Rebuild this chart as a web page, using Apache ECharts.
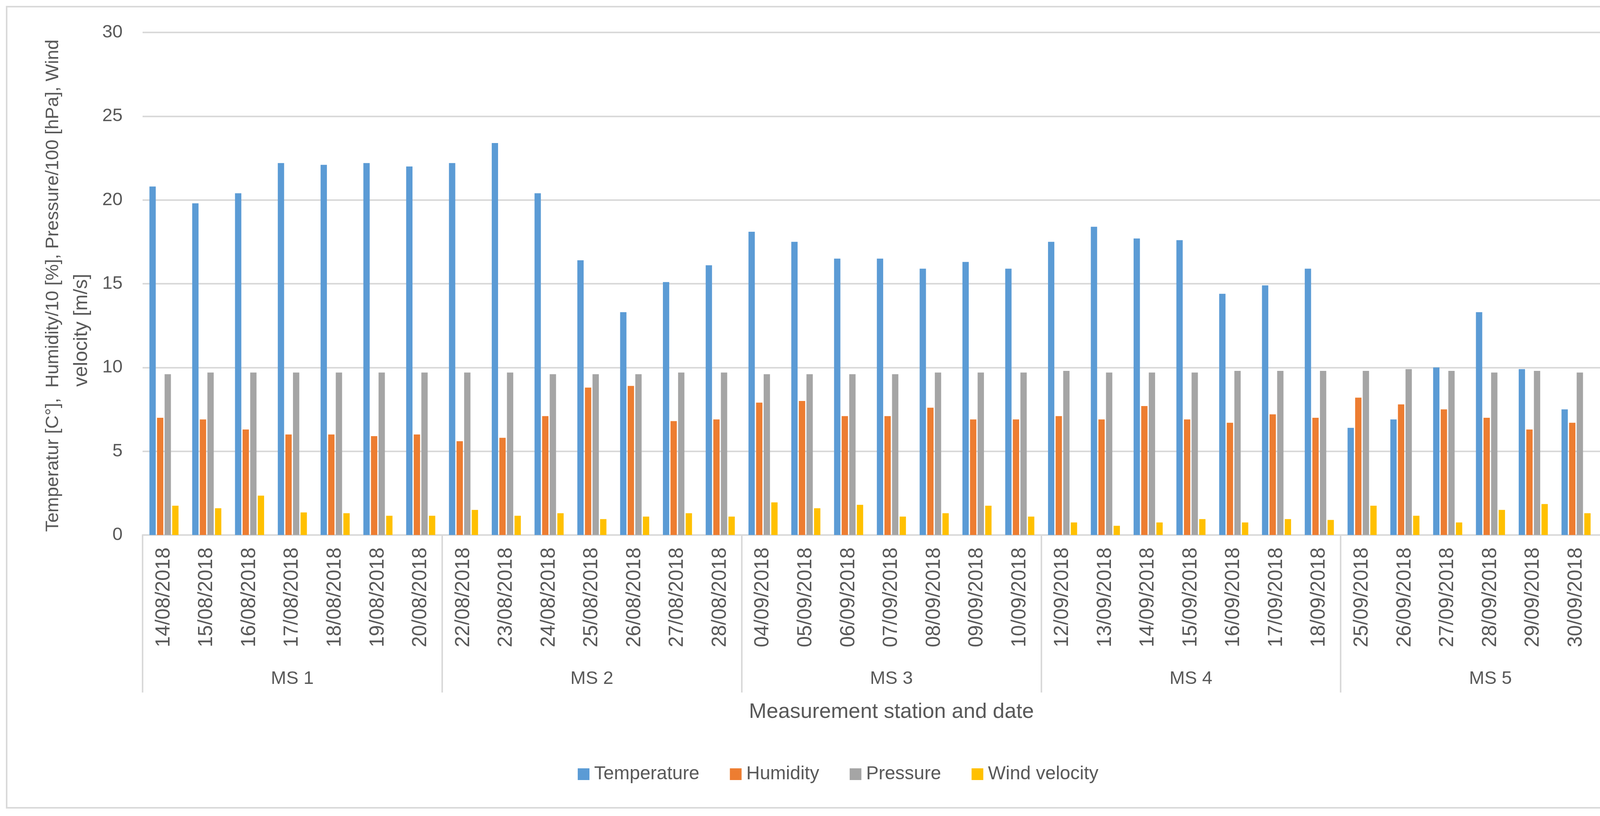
<!DOCTYPE html>
<html>
<head>
<meta charset="utf-8">
<script src="https://cdn.jsdelivr.net/npm/echarts@6/dist/echarts.min.js"></script>
<style>
html,body{margin:0;padding:0;background:#fff;overflow:hidden;}
#c{width:4291px;height:2088px;}
</style>
</head>
<body>
<div id="c"></div>
<script>
const dates = [
  '14/08/2018','15/08/2018','16/08/2018','17/08/2018','18/08/2018','19/08/2018','20/08/2018',
  '22/08/2018','23/08/2018','24/08/2018','25/08/2018','26/08/2018','27/08/2018','28/08/2018',
  '04/09/2018','05/09/2018','06/09/2018','07/09/2018','08/09/2018','09/09/2018','10/09/2018',
  '12/09/2018','13/09/2018','14/09/2018','15/09/2018','16/09/2018','17/09/2018','18/09/2018',
  '25/09/2018','26/09/2018','27/09/2018','28/09/2018','29/09/2018','30/09/2018','01/10/2018'
];
const stations = ['MS 1','MS 2','MS 3','MS 4','MS 5'];
const temperature = [20.8,19.8,20.4,22.2,22.1,22.2,22.0, 22.2,23.4,20.4,16.4,13.3,15.1,16.1, 18.1,17.5,16.5,16.5,15.9,16.3,15.9, 17.5,18.4,17.7,17.6,14.4,14.9,15.9, 6.4,6.9,10.0,13.3,9.9,7.5,9.6];
const humidity = [7.0,6.9,6.3,6.0,6.0,5.9,6.0, 5.6,5.8,7.1,8.8,8.9,6.8,6.9, 7.9,8.0,7.1,7.1,7.6,6.9,6.9, 7.1,6.9,7.7,6.9,6.7,7.2,7.0, 8.2,7.8,7.5,7.0,6.3,6.7,8.1];
const pressure = [9.6,9.7,9.7,9.7,9.7,9.7,9.7, 9.7,9.7,9.6,9.6,9.6,9.7,9.7, 9.6,9.6,9.6,9.6,9.7,9.7,9.7, 9.8,9.7,9.7,9.7,9.8,9.8,9.8, 9.8,9.9,9.8,9.7,9.8,9.7,9.6];
const wind = [1.75,1.6,2.35,1.35,1.3,1.15,1.15, 1.5,1.15,1.3,0.95,1.1,1.3,1.1, 1.95,1.6,1.8,1.1,1.3,1.75,1.1, 0.75,0.55,0.75,0.95,0.75,0.95,0.9, 1.75,1.15,0.75,1.5,1.85,1.3,1.15];
const seriesNames = ['Temperature','Humidity','Pressure','Wind velocity'];
const colors = ['#5B9BD5','#ED7D31','#A5A5A5','#FFC000'];
const yTitle1 = 'Temperatur [C°],  Humidity/10 [%], Pressure/100 [hPa], Wind';
const yTitle2 = 'velocity [m/s]';
const xTitle = 'Measurement station and date';

const txt = '#595959';
const font = 'Liberation Sans, Arial, sans-serif';
const chart = echarts.init(document.getElementById('c'));
const values = [temperature, humidity, pressure, wind];
chart.setOption({
  animation: false,
  backgroundColor: '#fff',
  textStyle: {fontFamily: font, color: txt},
  grid: {left: 365, right: 92, top: 83, bottom: 719, containLabel: false},
  legend: {
    data: seriesNames, top: 1957, left: 'center', padding: 0, itemWidth: 30, itemHeight: 30, itemGap: 78,
    icon: 'rect', textStyle: {fontSize: 48, lineHeight: 48, color: txt, fontFamily: font, padding: [0,0,0,7]}
  },
  xAxis: [
    {
      type: 'category', data: dates, position: 'bottom',
      axisLine: {show: true, lineStyle: {color: '#D9D9D9', width: 4}},
      axisTick: {show: false},
      axisLabel: {rotate: 90, interval: 0, margin: 32, fontSize: 51, color: txt, fontFamily: font}
    },
    {
      type: 'category', data: stations, position: 'bottom',
      axisLine: {show: false},
      axisTick: {show: true, interval: 0, length: 403, lineStyle: {color: '#D9D9D9', width: 4}},
      axisLabel: {interval: 0, margin: 345, fontSize: 47, color: txt, fontFamily: font}
    }
  ],
  yAxis: {
    type: 'value', min: 0, max: 30, interval: 5,
    axisLine: {show: false}, axisTick: {show: false},
    splitLine: {lineStyle: {color: '#D9D9D9', width: 4}},
    axisLabel: {fontSize: 47, color: txt, margin: 51, fontFamily: font}
  },
  graphic: [
    {type: 'rect', shape: {x: 17, y: 17, width: 4247, height: 2050}, style: {fill: 'none', stroke: '#D9D9D9', lineWidth: 4}, silent: true, z: -1},
    {type: 'text', x: 2282, y: 1822, style: {text: xTitle, fontSize: 54, fill: txt, fontFamily: font, align: 'center', verticalAlign: 'middle'}},
    {type: 'text', x: 136, y: 731, rotation: Math.PI/2, style: {text: yTitle1, fontSize: 47, fill: txt, fontFamily: font, align: 'center', verticalAlign: 'middle'}},
    {type: 'text', x: 209, y: 845, rotation: Math.PI/2, style: {text: yTitle2, fontSize: 50, fill: txt, fontFamily: font, align: 'center', verticalAlign: 'middle'}}
  ],
  series: seriesNames.map((n, i) => ({
    name: n, type: 'bar', xAxisIndex: 0, data: values[i],
    itemStyle: {color: colors[i]}, barGap: '20%', barCategoryGap: '32%'
  }))
});
</script>
</body>
</html>
